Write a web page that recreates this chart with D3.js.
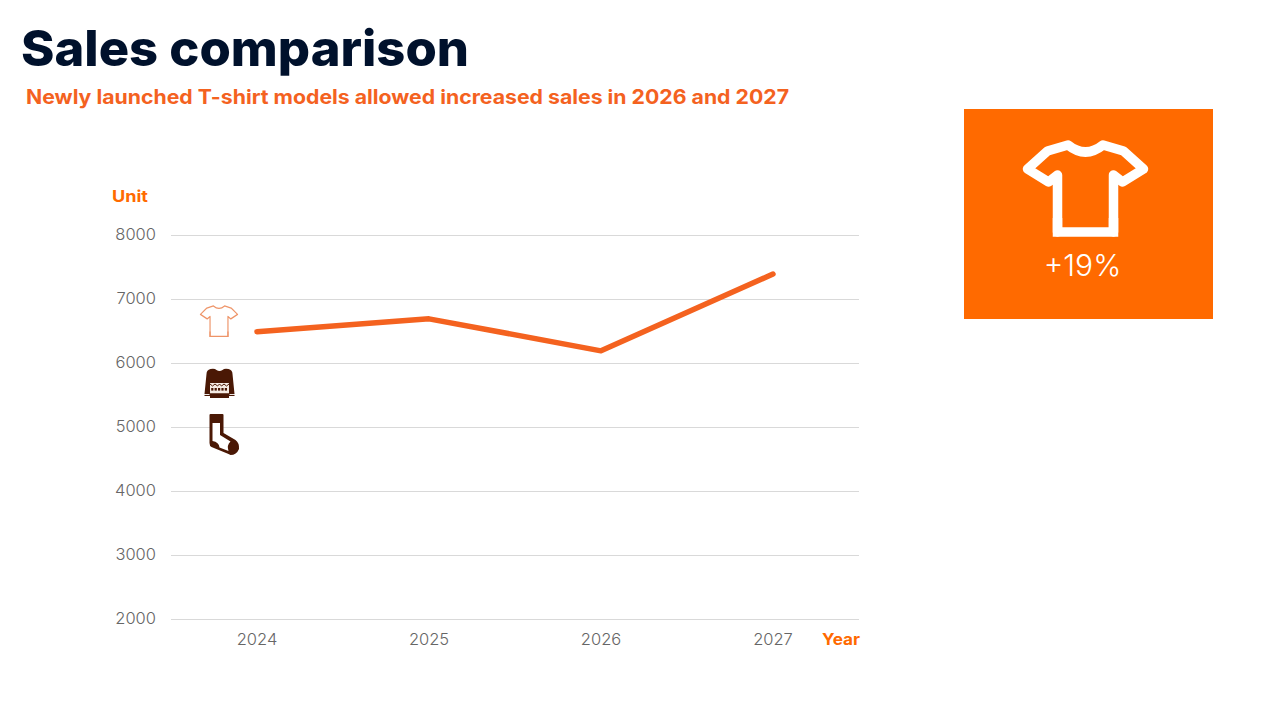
<!DOCTYPE html>
<html>
<head>
<meta charset="utf-8">
<script src="https://cdn.jsdelivr.net/npm/d3@7/dist/d3.min.js"></script>
<style>
html,body{margin:0;padding:0;background:#fff}
svg{display:block}
text{font-family:Inter,"Open Sans",sans-serif}
</style>
</head>
<body>
<svg id="chart" width="1280" height="720"></svg>
<script>
const years = ["2024", "2025", "2026", "2027"];
const tshirtSales = [6490, 6690, 6190, 7390];
const yTicks = [2000, 3000, 4000, 5000, 6000, 7000, 8000];

const ORANGE = "#f4621f";
const BRIGHT = "#ff6a00";
const BROWN = "#4a1805";

const svg = d3.select("#chart");

const x = d3.scaleBand().domain(years).range([171, 859]);
const y = d3.scaleLinear().domain([2000, 8000]).range([619, 235]);
const cx = d => x(d) + x.bandwidth() / 2;

// Heading
svg.append("text").attr("x", 21).attr("y", 66)
  .attr("font-size", 50).attr("font-weight", 800).attr("fill", "#00112c")
  .attr("textLength", 448).attr("lengthAdjust", "spacingAndGlyphs")
  .text("Sales comparison");
svg.append("text").attr("x", 26).attr("y", 104)
  .attr("font-size", 20).attr("font-weight", 700).attr("fill", ORANGE)
  .attr("textLength", 763).attr("lengthAdjust", "spacingAndGlyphs")
  .text("Newly launched T-shirt models allowed increased sales in 2026 and 2027");

// Horizontal gridlines and value labels
const yAxis = svg.append("g").attr("transform", "translate(171,0)")
  .call(d3.axisLeft(y).tickValues(yTicks).tickSize(-688).tickPadding(15).tickFormat(d3.format("d")));
yAxis.select(".domain").remove();
yAxis.selectAll("line").attr("stroke", "#d9d9d9").attr("stroke-width", 1);
yAxis.selectAll("text").attr("font-size", 16.5).attr("fill", "#666").attr("font-weight", 300)
  .attr("transform", "translate(0,-1)");

// Year labels
const xAxis = svg.append("g").attr("transform", "translate(0,619)")
  .call(d3.axisBottom(x).tickSize(0).tickPadding(14));
xAxis.select(".domain").remove();
xAxis.selectAll("text").attr("font-size", 16.5).attr("fill", "#666").attr("font-weight", 300);

// Axis titles
svg.append("text").attr("x", 112).attr("y", 202)
  .attr("font-size", 16).attr("font-weight", 700).attr("fill", BRIGHT)
  .attr("textLength", 36).attr("lengthAdjust", "spacingAndGlyphs").text("Unit");
svg.append("text").attr("x", 822).attr("y", 645)
  .attr("font-size", 16).attr("font-weight", 700).attr("fill", BRIGHT)
  .attr("textLength", 38).attr("lengthAdjust", "spacingAndGlyphs").text("Year");

// Sales line
const line = d3.line().x((d, i) => cx(years[i])).y(d => y(d));
svg.append("path").datum(tshirtSales)
  .attr("d", line).attr("fill", "none").attr("stroke", ORANGE)
  .attr("stroke-width", 5.5).attr("stroke-linecap", "round").attr("stroke-linejoin", "round");

// T-shirt outline, shared by the small legend icon and the callout icon.
// The hem is drawn on its own so its corners stay square.
const teeUpper = "M-28,74 L-28,17 L-37,24 L-58,11 L-38,-7 L-17.5,-13 Q0,1 17.5,-13 L38,-7 L58,11 L37,24 L28,17 L28,74";
const teeHem = "M-28,60 L-28,74 L28,74 L28,60";

function drawTee(transform, stroke, width, fill) {
  const g = svg.append("g").attr("transform", transform)
    .attr("fill", "none").attr("stroke", stroke).attr("stroke-width", width);
  g.append("path").attr("d", teeUpper + " Z").attr("fill", fill)
    .attr("stroke", "none");
  g.append("path").attr("d", teeUpper).attr("stroke-linejoin", "round").attr("stroke-linecap", "round");
  g.append("path").attr("d", teeHem).attr("stroke-linejoin", "miter");
}

drawTee("translate(219,310.5) scale(0.32,0.35)", "#ee9468", 3.6, "#fff");

// Sweater icon
const sweater = svg.append("g").attr("transform", "translate(219.5,369)");
sweater.append("path").attr("fill", BROWN)
  .attr("d", "M-9,0 Q-5,-1 -3,1 Q0,3 3,1 Q5,-1 9,0 Q13,1 13,5 L15,25 L15,27 L-15,27 L-15,25 L-13,5 Q-13,1 -9,0 Z");
sweater.append("rect").attr("x", -9.5).attr("y", 14).attr("width", 19).attr("height", 10.5).attr("fill", "#f6ebe3");
sweater.append("path").attr("fill", "none").attr("stroke", BROWN).attr("stroke-width", 1)
  .attr("d", "M-9.5,15 L-7,17 L-4.5,15 L-2,17 L0,15 L2,17 L4.5,15 L7,17 L9.5,15");
sweater.selectAll("rect.knit").data(d3.range(5)).join("rect")
  .attr("class", "knit")
  .attr("x", i => -8.3 + i * 3.4).attr("y", 19).attr("width", 2.2).attr("height", 2.6).attr("fill", BROWN);
sweater.append("rect").attr("x", -9.5).attr("y", 24.5).attr("width", 19).attr("height", 4.5).attr("fill", BROWN);
sweater.append("rect").attr("x", -15.5).attr("y", 25).attr("width", 5.5).attr("height", 0.9).attr("fill", "#fff");
sweater.append("rect").attr("x", 10).attr("y", 25).attr("width", 5.5).attr("height", 0.9).attr("fill", "#fff");

// Sock icon
const sock = svg.append("g").attr("transform", "translate(209.5,414)");
sock.append("path").attr("fill", BROWN)
  .attr("d", "M1,0 L13,0 Q14,0 14,1 L14,19 L26,26 Q30,29 29.5,35 Q27,41 21,41 L19,40 L2,33 Q0,32 0,29 L0,1 Q0,0 1,0 Z");
sock.append("path").attr("fill", "#fff")
  .attr("d", "M3,9 L10.5,9 L10.5,21 L21,27.5 Q17,31 19,37 L10,33.5 Q9.5,28 3,27 Z");

// Callout panel
svg.append("rect").attr("x", 964).attr("y", 109).attr("width", 249).attr("height", 210).attr("fill", BRIGHT);
drawTee("translate(1085.5,158)", "#fff", 9.5, "none");
svg.append("text").attr("x", 1082.5).attr("y", 276).attr("text-anchor", "middle")
  .attr("font-size", 30).attr("font-weight", 300).attr("fill", "#fff").text("+19%");
</script>
</body>
</html>
